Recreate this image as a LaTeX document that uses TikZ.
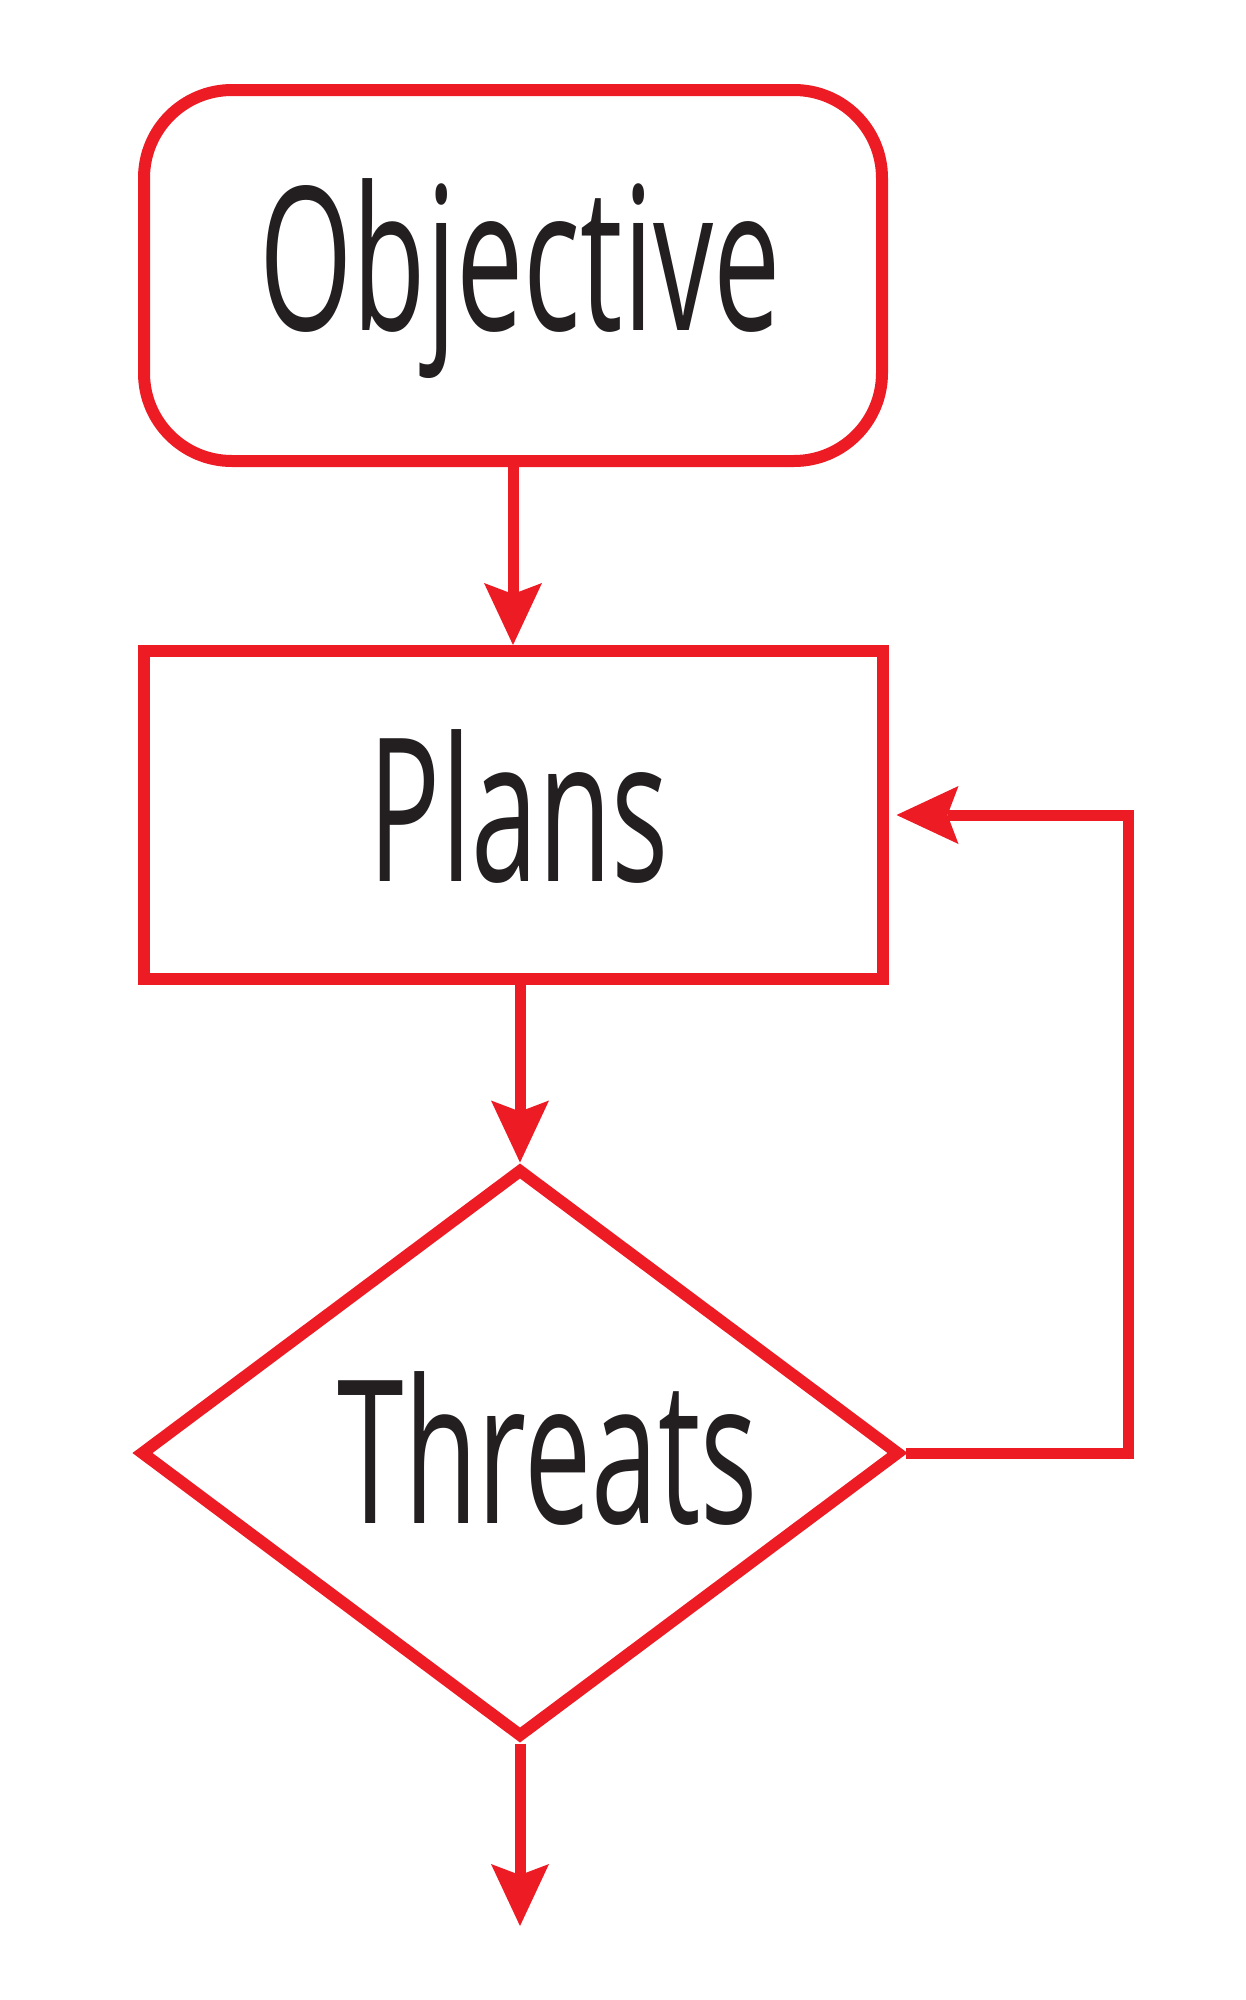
\documentclass[tikz,border=0pt]{standalone}
\usepackage{fontspec}
\newfontfamily\diagfont[FakeStretch=0.6]{Open Sans}
\usetikzlibrary{shapes.geometric,arrows.meta}
\definecolor{fcred}{HTML}{ED1C24}
\definecolor{fctext}{HTML}{231F20}
\begin{document}
\begin{tikzpicture}[x=1pt,y=-1pt,
  shapebox/.style={draw=fcred, line width=12pt, text=fctext,
    font=\diagfont\fontsize{200pt}{240pt}\selectfont,
    inner sep=0pt, text height=152pt},
  flow/.style={draw=fcred, line width=11pt,
    -{Stealth[length=62pt,width=58pt,inset=11pt,line width=0pt]}}]
\useasboundingbox (0,0) rectangle (1246,2000);
\node[shapebox, rectangle, rounded corners=88pt, minimum width=738pt,
  minimum height=371pt, text depth=43pt] (obj) at (513,275.5) {\hspace*{14pt}Objective};
\node[shapebox, rectangle, minimum width=739pt, minimum height=328pt,
  text depth=18.6pt] (plans) at (513,815) {\hspace*{12pt}Plans};
\node[shapebox, diamond, aspect=1.336, minimum width=760pt, minimum height=569pt,
  text depth=10.8pt] (threats) at (520,1453) {\hspace*{56pt}Threats};
\coordinate (out) at (520,1926);
\coordinate (loop) at (1128,1453);
\draw[flow] (obj.south) -- (plans.north);
\draw[flow] (plans.south -| threats.north) -- (threats.north);
\draw[flow] (threats.south) -- (out);
\draw[flow, shorten >=8pt] (threats.east) -- (threats.east -| loop) |- (plans.east);
\end{tikzpicture}
\end{document}
